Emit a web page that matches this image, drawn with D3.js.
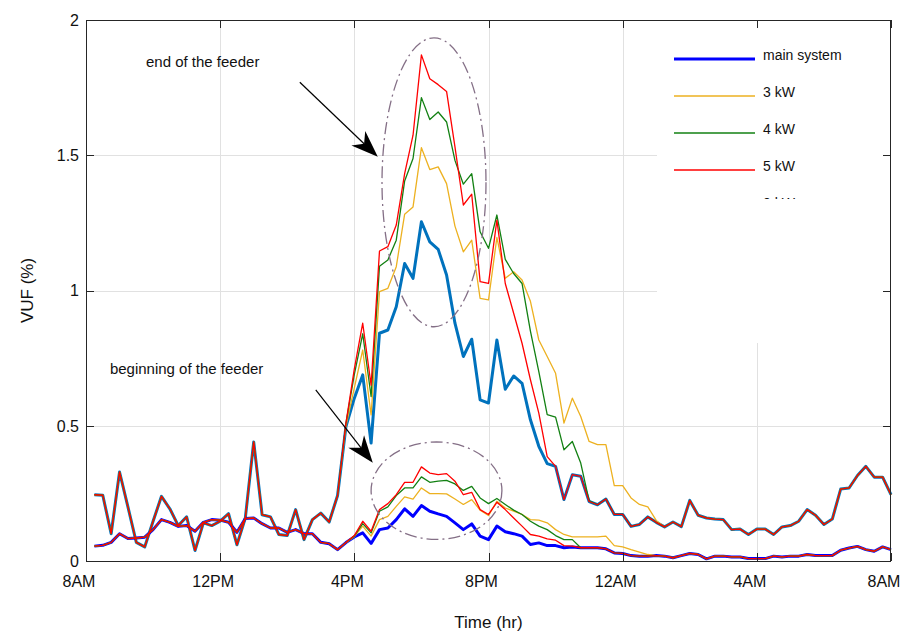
<!DOCTYPE html>
<html><head><meta charset="utf-8">
<script src="https://cdn.jsdelivr.net/npm/d3@7"></script>
<style>
body{margin:0;background:#fff}
svg{display:block}
text{font-family:"Liberation Sans",Arial,Helvetica,sans-serif;fill:#111}
</style>
</head><body><svg id="c" width="904" height="634"></svg>
<script>
// ---- axis / tick data ----
const xTickIndex = [0,16,32,48,64,80,96];          // 15-min steps from 8AM
const xTickLabels = ["8AM","12PM","4PM","8PM","12AM","4AM","8AM"];
const yTicks = [0,0.5,1,1.5,2];
const yTickLabels = ["0","0.5","1","1.5","2"];
const seriesNames = ["main system","3 kW","4 kW","5 kW","0 kW"];

// ---- end of the feeder (upper group), steps 1..30 and 64..96 identical for all cases ----
const endMorning = [0.245,0.243,0.101,0.329,0.200,0.069,0.052,0.147,0.239,0.193,0.131,0.163,0.039,0.141,0.131,0.147,0.175,0.060,0.159,0.440,0.171,0.163,0.098,0.094,0.190,0.079,0.153,0.177,0.144,0.242];
const endNight = [0.172,0.128,0.135,0.163,0.143,0.126,0.144,0.127,0.224,0.169,0.159,0.155,0.153,0.116,0.118,0.098,0.118,0.118,0.098,0.126,0.131,0.147,0.190,0.169,0.135,0.155,0.266,0.270,0.316,0.350,0.310,0.310,0.245];
// steps 31..63
const mainEndPeak = [0.497,0.602,0.688,0.436,0.842,0.854,0.94,1.10,1.045,1.254,1.18,1.152,1.057,0.879,0.756,0.820,0.596,0.584,0.817,0.635,0.684,0.657,0.522,0.424,0.360,0.350,0.227,0.319,0.313,0.220,0.208,0.229,0.172];
const pv4EndPeak = [0.51,0.69,0.84,0.608,1.090,1.113,1.186,1.405,1.488,1.713,1.632,1.660,1.623,1.481,1.393,1.432,1.217,1.156,1.279,1.115,1.063,1.026,0.85,0.70,0.541,0.532,0.411,0.442,0.362,0.222,0.208,0.229,0.172];
const pv5EndPeak = [0.51,0.71,0.879,0.65,1.146,1.162,1.242,1.432,1.574,1.871,1.783,1.761,1.736,1.531,1.316,1.356,1.033,1.026,1.26,1.026,0.916,0.805,0.670,0.547,0.386,0.350,0.227,0.319,0.313,0.220,0.208,0.229,0.172];
// steps 31..68
const pv3EndPeak = [0.50,0.64,0.780,0.54,0.996,1.008,1.088,1.282,1.309,1.528,1.447,1.457,1.395,1.238,1.143,1.186,0.971,0.965,1.196,1.045,1.069,1.039,0.96,0.817,0.756,0.694,0.510,0.602,0.534,0.442,0.430,0.430,0.279,0.279,0.233,0.209,0.200,0.150];

// ---- beginning of the feeder (lower group) ----
// steps 1..31
const begMorning = [0.055,0.058,0.069,0.101,0.083,0.085,0.088,0.116,0.153,0.143,0.128,0.131,0.110,0.143,0.153,0.151,0.143,0.106,0.157,0.159,0.138,0.122,0.122,0.106,0.116,0.101,0.101,0.069,0.064,0.042,0.068];
// steps 64..96
const begNight = [0.028,0.020,0.018,0.018,0.020,0.018,0.012,0.020,0.028,0.024,0.008,0.018,0.018,0.015,0.015,0.009,0.009,0.009,0.018,0.015,0.018,0.018,0.024,0.020,0.020,0.020,0.040,0.048,0.054,0.042,0.036,0.052,0.042];
// steps 32..63
const mainBegPeak = [0.089,0.104,0.065,0.116,0.122,0.153,0.193,0.165,0.205,0.184,0.174,0.165,0.141,0.116,0.137,0.092,0.079,0.129,0.108,0.101,0.092,0.061,0.067,0.057,0.057,0.049,0.052,0.049,0.049,0.049,0.045,0.030];
const pv4BegPeak = [0.092,0.138,0.104,0.184,0.200,0.242,0.270,0.270,0.311,0.291,0.295,0.298,0.285,0.261,0.276,0.233,0.212,0.231,0.209,0.188,0.172,0.147,0.129,0.116,0.094,0.079,0.079,0.049,0.049,0.049,0.045,0.030];
const pv5BegPeak = [0.094,0.147,0.110,0.190,0.212,0.245,0.291,0.291,0.348,0.325,0.319,0.323,0.295,0.245,0.254,0.190,0.172,0.217,0.190,0.159,0.129,0.098,0.092,0.082,0.077,0.057,0.055,0.049,0.049,0.049,0.045,0.030];
// steps 32..67
const pv3BegPeak = [0.090,0.129,0.092,0.153,0.165,0.202,0.237,0.229,0.270,0.249,0.249,0.248,0.229,0.209,0.227,0.188,0.168,0.221,0.196,0.184,0.172,0.153,0.151,0.141,0.116,0.098,0.089,0.089,0.089,0.089,0.092,0.057,0.052,0.042,0.033,0.024];

// assembled series (96 samples each, step 1..96)
const mainEnd = endMorning.concat(mainEndPeak, endNight);
const pv3End  = endMorning.concat(pv3EndPeak, endNight.slice(5));
const pv4End  = endMorning.concat(pv4EndPeak, endNight);
const pv5End  = endMorning.concat(pv5EndPeak, endNight);
const mainBeg = begMorning.concat(mainBegPeak, begNight);
const pv3Beg  = begMorning.concat(pv3BegPeak, begNight.slice(4));
const pv4Beg  = begMorning.concat(pv4BegPeak, begNight);
const pv5Beg  = begMorning.concat(pv5BegPeak, begNight);

// ---- drawing ----
const svg = d3.select("#c");
const L = 86, R = 891, T = 20, B = 561;
const x = d3.scaleLinear().domain([0,96]).range([L,R]);
const y = d3.scaleLinear().domain([0,2]).range([B,T]);

const col = {blueEnd:"#0072BD", blueBeg:"#0000FF", orange:"#EDB120", green:"#128012", red:"#FF0000"};

// grid
const grid = svg.append("g").attr("stroke","#e1e1e1").attr("stroke-width",1);
grid.selectAll("line.v").data(xTickIndex.slice(1,-1)).join("line")
  .attr("x1",d=>Math.round(x(d))+0.5).attr("x2",d=>Math.round(x(d))+0.5).attr("y1",T).attr("y2",B);
grid.selectAll("line.h").data(yTicks.slice(1,-1)).join("line")
  .attr("y1",d=>Math.round(y(d))+0.5).attr("y2",d=>Math.round(y(d))+0.5).attr("x1",L).attr("x2",R);

// legend background (covers grid)
const legX = 657, legY = T+1, legW = R-1-legX, legH = 343-legY;
svg.append("rect").attr("x",legX).attr("y",legY).attr("width",legW).attr("height",legH).attr("fill","#fff");

// lines
const line = d3.line().x((d,i)=>x(i+1)).y(d=>y(d));
const plot = svg.append("g").attr("fill","none").attr("stroke-linejoin","round");
const layers = [
  [mainEnd, col.blueEnd, 3],
  [mainBeg, col.blueBeg, 3],
  [pv3End, col.orange, 1.3],
  [pv3Beg, col.orange, 1.3],
  [pv4End, col.green, 1.3],
  [pv4Beg, col.green, 1.3],
  [pv5End, col.red, 1.3],
  [pv5Beg, col.red, 1.3]
];
layers.forEach(([d,c,w])=>plot.append("path").datum(d).attr("d",line).attr("stroke",c).attr("stroke-width",w));

// axes box and ticks
const ax = svg.append("g").attr("stroke","#262626").attr("stroke-width",1);
ax.append("rect").attr("x",L+0.5).attr("y",T+0.5).attr("width",R-L-1).attr("height",B-T).attr("fill","none");
const tl = 8;
xTickIndex.forEach(d=>{
  const px = Math.round(x(d))+0.5;
  ax.append("line").attr("x1",px).attr("x2",px).attr("y1",B).attr("y2",B-tl);
  ax.append("line").attr("x1",px).attr("x2",px).attr("y1",T).attr("y2",T+tl);
});
yTicks.forEach(d=>{
  const py = Math.round(y(d))+0.5;
  ax.append("line").attr("x1",L).attr("x2",L+tl).attr("y1",py).attr("y2",py);
  ax.append("line").attr("x1",R).attr("x2",R-tl).attr("y1",py).attr("y2",py);
});

// tick labels
svg.append("g").selectAll("text").data(xTickIndex).join("text")
  .attr("x",d=>x(d)-7).attr("y",B+26).attr("text-anchor","middle").attr("font-size",16)
  .text((d,i)=>xTickLabels[i]);
svg.append("g").selectAll("text").data(yTicks).join("text")
  .attr("x",L-7).attr("y",d=>y(d)).attr("dy","0.36em").attr("text-anchor","end").attr("font-size",16)
  .text((d,i)=>yTickLabels[i]);

// axis titles
svg.append("text").attr("x",(L+R)/2).attr("y",628).attr("text-anchor","middle").attr("font-size",17).text("Time (hr)");
svg.append("text").attr("transform",`translate(33,${(T+B)/2}) rotate(-90)`).attr("text-anchor","middle").attr("font-size",17).text("VUF (%)");

// legend
const legItems = [[col.blueBeg,3],[col.orange,1.5],[col.green,1.5],[col.red,1.5],[col.blueEnd,3]];
const lg = svg.append("g");
const clip = svg.append("clipPath").attr("id","legclip");
clip.append("rect").attr("x",legX).attr("y",legY).attr("width",legW).attr("height",199-legY);
const lgc = lg.append("g").attr("clip-path","url(#legclip)");
legItems.forEach(([c,w],k)=>{
  const yy = 59 + k*37;
  if (k < 4) lgc.append("line").attr("x1",674).attr("x2",755).attr("y1",yy).attr("y2",yy).attr("stroke",c).attr("stroke-width",w);
  lgc.append("text").attr("x",763).attr("y",yy+1).attr("font-size",14).text(seriesNames[k]);
});

// annotations (placed in data coordinates)
const ann = svg.append("g");
const ellStyle = g=>g.attr("fill","none").attr("stroke","#846f86").attr("stroke-width",1.3).attr("stroke-dasharray","12,4,2,4");
ann.append("ellipse").attr("cx",x(41.5)).attr("cy",y(1.4)).attr("rx",x(6.2)-x(0)).attr("ry",y(0)-y(0.534)).call(ellStyle);
ann.append("ellipse").attr("cx",x(41.8)).attr("cy",y(0.26)).attr("rx",x(7.8)-x(0)).attr("ry",y(0)-y(0.18)).call(ellStyle);

function arrow(x0,y0,x1,y1){
  const dx=x1-x0, dy=y1-y0, len=Math.hypot(dx,dy), ux=dx/len, uy=dy/len, nx=-uy, ny=ux;
  const hl=27, hw=10, notch=19;
  ann.append("line").attr("x1",x0).attr("y1",y0).attr("x2",x1-ux*notch).attr("y2",y1-uy*notch).attr("stroke","#000").attr("stroke-width",1.2);
  const p=[[x1,y1],[x1-ux*hl+nx*hw,y1-uy*hl+ny*hw],[x1-ux*notch,y1-uy*notch],[x1-ux*hl-nx*hw,y1-uy*hl-ny*hw]];
  ann.append("path").attr("d","M"+p.map(q=>q.join(",")).join("L")+"Z").attr("fill","#000");
}
arrow(x(25.5),y(1.77),x(34.8),y(1.494));
arrow(x(27.4),y(0.633),x(34.2),y(0.363));

ann.append("text").attr("x",x(7.15)).attr("y",y(1.826)).attr("font-size",15).text("end of the feeder");
ann.append("text").attr("x",x(2.85)).attr("y",y(0.69)).attr("font-size",15).text("beginning of the feeder");
</script>
</body></html>
